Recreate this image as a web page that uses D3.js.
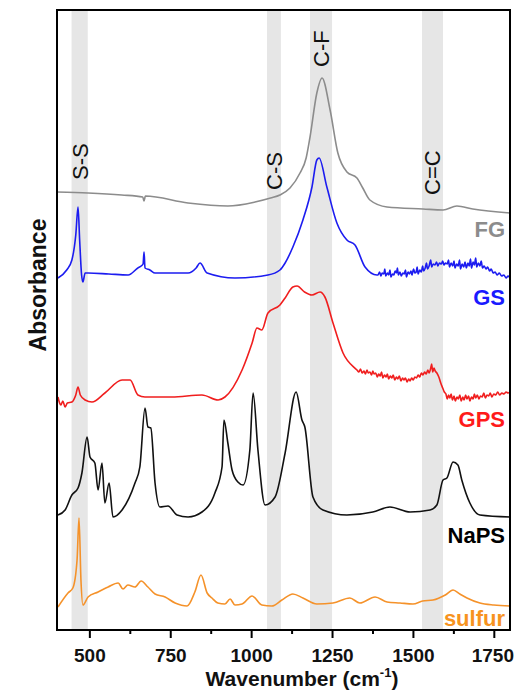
<!DOCTYPE html>
<html>
<head>
<meta charset="utf-8">
<script src="https://cdn.jsdelivr.net/npm/d3@7"></script>
<style>
  body { margin: 0; background: #fff; }
  text { font-family: "Liberation Sans", Arial, sans-serif; }
</style>
</head>
<body>
<svg id="chart"></svg>
<script>
// FTIR spectra, stacked with offsets (absorbance, a.u.)
var seriesNames = ["FG", "GS", "GPS", "NaPS", "sulfur"];

var fgData = [[400,4.38],[496,4.37],[600,4.35],[665,4.33],[669,4.29],[673,4.34],[805,4.27],[928,4.24],
  [1012,4.28],[1060,4.32],[1089,4.35],[1120,4.42],[1151,4.57],[1170,4.72],[1182,4.93],[1203,5.37],
  [1219,5.52],[1244,5.20],[1268,4.77],[1296,4.58],[1327,4.52],[1345,4.42],[1367,4.30],[1420,4.23],
  [1531,4.21],[1593,4.20],[1636,4.24],[1685,4.21],[1800,4.17]];

var gsData = [[403,3.52],[430,3.60],[446,3.70],[458,3.95],[465,4.23],[470,3.90],[476,3.55],[480,3.48],
  [487,3.57],[496,3.57],[560,3.56],[620,3.55],[650,3.62],[660,3.64],[666,3.66],[669,3.78],[672,3.62],
  [687,3.60],[703,3.57],[805,3.57],[830,3.62],[842,3.67],[864,3.57],[950,3.52],[1052,3.55],[1089,3.60],
  [1105,3.67],[1129,3.83],[1160,4.10],[1188,4.43],[1203,4.70],[1210,4.72],[1234,4.43],[1265,4.07],
  [1296,3.90],[1321,3.85],[1352,3.63],[1389,3.55],[1392,3.55],[1397,3.58],[1401,3.54],[1405,3.57],
  [1410,3.56],[1413,3.61],[1416,3.54],[1421,3.57],[1425,3.55],[1429,3.60],[1432,3.53],[1437,3.56],
  [1441,3.55],[1445,3.59],[1449,3.57],[1452,3.62],[1455,3.55],[1460,3.58],[1464,3.54],[1469,3.57],
  [1473,3.56],[1477,3.60],[1480,3.53],[1485,3.58],[1489,3.56],[1494,3.59],[1497,3.55],[1502,3.61],
  [1506,3.57],[1510,3.58],[1513,3.63],[1516,3.56],[1521,3.60],[1526,3.58],[1530,3.64],[1533,3.59],
  [1538,3.62],[1542,3.67],[1545,3.61],[1550,3.64],[1555,3.70],[1558,3.63],[1563,3.66],[1568,3.65],
  [1573,3.68],[1577,3.64],[1582,3.67],[1588,3.66],[1592,3.69],[1596,3.65],[1601,3.67],[1606,3.66],
  [1610,3.70],[1613,3.63],[1618,3.67],[1623,3.64],[1627,3.69],[1630,3.62],[1635,3.66],[1640,3.64],
  [1644,3.70],[1647,3.61],[1652,3.66],[1657,3.63],[1661,3.68],[1665,3.62],[1670,3.67],[1674,3.64],
  [1678,3.71],[1681,3.62],[1686,3.68],[1690,3.65],[1694,3.72],[1697,3.63],[1702,3.67],[1707,3.64],
  [1711,3.69],[1715,3.62],[1720,3.64],[1726,3.61],[1731,3.63],[1737,3.59],[1742,3.61],[1748,3.57],
  [1754,3.58],[1760,3.55],[1767,3.57],[1774,3.54],[1781,3.55],[1788,3.52],[1794,3.54],[1800,3.52]];

var gpsData = [[403,2.33],[408,2.27],[412,2.25],[418,2.29],[425,2.23],[432,2.27],[446,2.28],[458,2.35],
  [465,2.43],[472,2.35],[487,2.30],[508,2.28],[548,2.37],[601,2.50],[626,2.50],[650,2.35],[672,2.33],
  [755,2.33],[848,2.35],[898,2.30],[919,2.33],[972,2.60],[1003,2.87],[1018,3.02],[1033,3.00],
  [1052,3.17],[1089,3.25],[1105,3.32],[1129,3.43],[1142,3.44],[1165,3.38],[1188,3.35],[1213,3.38],
  [1228,3.33],[1253,3.07],[1284,2.77],[1327,2.60],[1333,2.58],[1338,2.61],[1343,2.57],[1349,2.59],
  [1353,2.56],[1358,2.60],[1362,2.57],[1367,2.58],[1372,2.55],[1376,2.59],[1380,2.56],[1385,2.57],
  [1390,2.53],[1394,2.56],[1399,2.54],[1403,2.58],[1407,2.52],[1412,2.55],[1417,2.53],[1421,2.56],
  [1425,2.51],[1430,2.54],[1435,2.52],[1439,2.55],[1444,2.50],[1449,2.53],[1453,2.51],[1458,2.54],
  [1463,2.49],[1468,2.52],[1472,2.50],[1477,2.52],[1482,2.48],[1487,2.51],[1491,2.49],[1496,2.52],
  [1501,2.50],[1506,2.53],[1511,2.52],[1516,2.55],[1521,2.53],[1526,2.57],[1531,2.55],[1536,2.58],
  [1541,2.56],[1546,2.60],[1550,2.57],[1555,2.62],[1558,2.66],[1561,2.58],[1565,2.62],[1569,2.59],
  [1574,2.57],[1580,2.53],[1586,2.47],[1592,2.42],[1597,2.38],[1602,2.36],[1606,2.31],[1610,2.35],
  [1614,2.32],[1618,2.36],[1622,2.30],[1627,2.34],[1631,2.29],[1636,2.33],[1640,2.31],[1645,2.35],
  [1649,2.29],[1654,2.33],[1658,2.30],[1663,2.35],[1667,2.31],[1672,2.34],[1676,2.29],[1681,2.33],
  [1686,2.31],[1690,2.36],[1694,2.32],[1699,2.35],[1704,2.31],[1709,2.34],[1714,2.33],[1719,2.37],
  [1724,2.32],[1729,2.35],[1734,2.34],[1739,2.37],[1744,2.33],[1750,2.36],[1756,2.35],[1762,2.38],
  [1768,2.35],[1775,2.37],[1781,2.36],[1788,2.38],[1794,2.37],[1800,2.38]];

var napsData = [[403,1.15],[425,1.20],[446,1.35],[465,1.42],[477,1.57],[493,1.93],[502,1.73],[517,1.67],
  [527,1.40],[539,1.67],[548,1.27],[561,1.47],[573,1.13],[601,1.20],[641,1.47],[656,1.63],[672,2.22],
  [681,2.03],[690,2.02],[703,1.47],[718,1.23],[743,1.24],[771,1.15],[805,1.13],[848,1.18],[888,1.37],
  [910,1.63],[916,2.10],[928,1.87],[941,1.60],[959,1.48],[975,1.45],[996,1.80],[1006,2.37],[1021,1.80],
  [1043,1.25],[1074,1.33],[1105,1.77],[1139,2.38],[1157,2.10],[1166,2.03],[1191,1.33],[1222,1.20],
  [1296,1.15],[1376,1.18],[1429,1.23],[1491,1.18],[1553,1.20],[1574,1.25],[1593,1.50],[1605,1.52],
  [1624,1.68],[1639,1.65],[1651,1.50],[1676,1.27],[1707,1.15],[1800,1.13]];

var sulfurData = [[403,0.23],[434,0.37],[449,0.42],[462,0.70],[468,1.12],[474,0.50],[480,0.25],[496,0.33],
  [527,0.38],[558,0.43],[589,0.47],[604,0.41],[619,0.45],[641,0.43],[660,0.49],[681,0.43],[703,0.36],
  [734,0.33],[765,0.27],[802,0.24],[826,0.38],[845,0.55],[864,0.37],[879,0.32],[897,0.27],[919,0.26],
  [935,0.31],[950,0.25],[972,0.26],[1003,0.34],[1033,0.25],[1064,0.24],[1095,0.30],[1129,0.36],
  [1160,0.32],[1203,0.26],[1253,0.27],[1305,0.32],[1336,0.27],[1383,0.33],[1420,0.28],[1460,0.27],
  [1500,0.26],[1530,0.29],[1562,0.30],[1600,0.35],[1624,0.40],[1645,0.36],[1667,0.32],[1707,0.27],
  [1750,0.25],[1800,0.24]];

var bandNames = ["S-S", "C-S", "C-F", "C=C"];
var bandRanges = [[445, 495], [1049, 1092], [1182, 1250], [1528, 1593]];
var xTicks = [500, 750, 1000, 1250, 1500, 1750];
var xMinorTicks = [625, 875, 1125, 1375, 1625];

// layout
var dimensions = {
    width: 515,
    height: 691,
    margin: { top: 10, bottom: 61, right: 5, left: 57 }
};
var colors = ["#8c8c8c", "#1c1cf0", "#f01e1e", "#111111", "#f5922a"];
var labelColors = ["#8c8c8c", "#1a1aff", "#ff1a1a", "#000000", "#f7931e"];
var labelY = [3.93, 3.25, 2.03, 0.87, 0.04];
var bandLabelY = [4.5, 4.4, 5.63, 4.35];

var svg = d3.select("#chart")
    .attr("width", dimensions.width)
    .attr("height", dimensions.height);

var x0 = dimensions.margin.left,
    x1 = dimensions.width - dimensions.margin.right,
    y0 = dimensions.height - dimensions.margin.bottom,
    y1 = dimensions.margin.top;

var xScale = d3.scaleLinear().domain([400, 1800]).range([x0, x1]);
var yScale = d3.scaleLinear().domain([0, 6.2]).range([y0, y1]);

// grey bands
svg.selectAll(".band")
    .data(bandRanges)
    .enter()
    .append("rect")
    .attr("x", d => xScale(d[0]))
    .attr("width", d => xScale(d[1]) - xScale(d[0]))
    .attr("y", y1)
    .attr("height", y0 - y1)
    .attr("fill", "#e6e6e6");

svg.selectAll(".band-label")
    .data(bandNames)
    .enter()
    .append("text")
    .attr("transform", (d, i) => `translate(${xScale((bandRanges[i][0] + bandRanges[i][1]) / 2)},${yScale(bandLabelY[i])}) rotate(-90)`)
    .attr("dy", "0.36em")
    .style("font-size", "22px")
    .style("fill", "#111")
    .text(d => d);

var line = d3.line()
    .x(d => xScale(d[0]))
    .y(d => yScale(d[1]))
    .curve(d3.curveMonotoneX);

var allData = [fgData, gsData, gpsData, napsData, sulfurData];

svg.selectAll(".spectrum")
    .data(allData)
    .enter()
    .append("path")
    .attr("class", "spectrum")
    .attr("d", d => line(d))
    .style("fill", "none")
    .style("stroke", (d, i) => colors[i])
    .style("stroke-width", 1.6)
    .style("stroke-linejoin", "round");

svg.selectAll(".series-label")
    .data(seriesNames)
    .enter()
    .append("text")
    .attr("x", x1 - 5)
    .attr("y", (d, i) => yScale(labelY[i]))
    .attr("text-anchor", "end")
    .style("font-size", "22px")
    .style("font-weight", "bold")
    .style("fill", (d, i) => labelColors[i])
    .text(d => d);

// frame
svg.append("rect")
    .attr("x", x0)
    .attr("y", y1)
    .attr("width", x1 - x0)
    .attr("height", y0 - y1)
    .attr("fill", "none")
    .attr("stroke", "#000")
    .attr("stroke-width", 2);

// x-axis
var xAxis = svg.append("g")
    .attr("transform", `translate(0,${y0})`)
    .call(d3.axisBottom(xScale).tickValues(xTicks).tickSize(8).tickPadding(11).tickFormat(d3.format("d")));
xAxis.select(".domain").remove();
xAxis.selectAll(".tick line").attr("stroke-width", 2);
xAxis.selectAll("text")
    .style("font-size", "19px")
    .style("font-weight", "bold")
    .style("font-family", "'Liberation Sans', Arial, sans-serif")
    .attr("fill", "#111")
    .attr("dx", (d, i) => i === xTicks.length - 1 ? -1.5 : 0);

svg.append("g")
    .attr("transform", `translate(0,${y0})`)
    .call(d3.axisBottom(xScale).tickValues(xMinorTicks).tickSize(4).tickFormat(""))
    .call(g => g.select(".domain").remove())
    .selectAll("line").attr("stroke-width", 2);

var title = svg.append("text")
    .attr("x", 302)
    .attr("y", dimensions.height - 5)
    .attr("text-anchor", "middle")
    .style("font-size", "21px")
    .style("font-weight", "bold")
    .style("fill", "#111");
title.append("tspan").text("Wavenumber (cm");
title.append("tspan").attr("dy", "-9").style("font-size", "13px").text("-1");
title.append("tspan").attr("dy", "9").text(")");

svg.append("text")
    .attr("transform", `translate(46,285) rotate(-90)`)
    .attr("text-anchor", "middle")
    .style("font-size", "23px")
    .style("font-weight", "bold")
    .style("fill", "#111")
    .text("Absorbance");
</script>
</body>
</html>
